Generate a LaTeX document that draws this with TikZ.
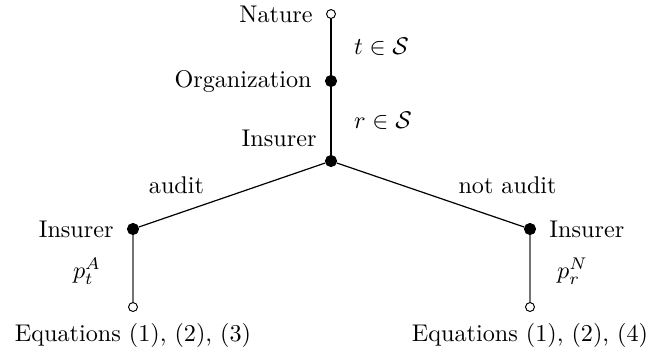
\documentclass[tikz,border=0pt]{standalone}
\usepackage{amsmath,amssymb}
\usetikzlibrary{positioning}

\begin{document}
\begin{tikzpicture}[x=0.01454cm, y=-0.01454cm,
  opennode/.style={draw, fill=white, circle, inner sep=0pt, minimum size=3.7pt},
  solidnode/.style={draw, fill=black, circle, inner sep=0pt, minimum size=4.6pt},
  branch/.style={line width=0.5pt}
]
  \useasboundingbox (0,0) rectangle (648,354);

  \node[opennode, label={[label distance=2pt]left:Nature}] (nature) at (331,14) {};
  \node[solidnode, label={[label distance=2pt]left:Organization}] (org) at (331,81) {};
  \node[solidnode, label={[label distance=1pt]above left:Insurer}] (ins) at (331,161) {};
  \node[solidnode, label={[label distance=2pt]left:Insurer}] (insA) at (133,229) {};
  \node[solidnode, label={[label distance=2pt]right:Insurer}] (insN) at (530,229) {};
  \node[opennode, label={[label distance=1pt]below:Equations (1), (2), (3)}] (eqA) at (133,307) {};
  \node[opennode, label={[label distance=1pt]below:Equations (1), (2), (4)}] (eqN) at (530,307) {};

  \draw[branch] (nature) -- node[right=6pt] {$t \in \mathcal{S}$} (org);
  \draw[branch] (org) -- node[right=6pt] {$r \in \mathcal{S}$} (ins);
  \draw[branch] (ins) -- node[left=8pt, yshift=4pt] {audit} (insA);
  \draw[branch] (ins) -- node[right=8pt, yshift=4pt] {not audit} (insN);
  \draw[branch, black!55] (insA) -- node[left=12pt, black, inner sep=1pt, yshift=-1pt] {$p_t^A$} (eqA);
  \draw[branch, black!55] (insN) -- node[right=10pt, black, inner sep=1pt, yshift=-1pt] {$p_r^N$} (eqN);
\end{tikzpicture}
\end{document}
